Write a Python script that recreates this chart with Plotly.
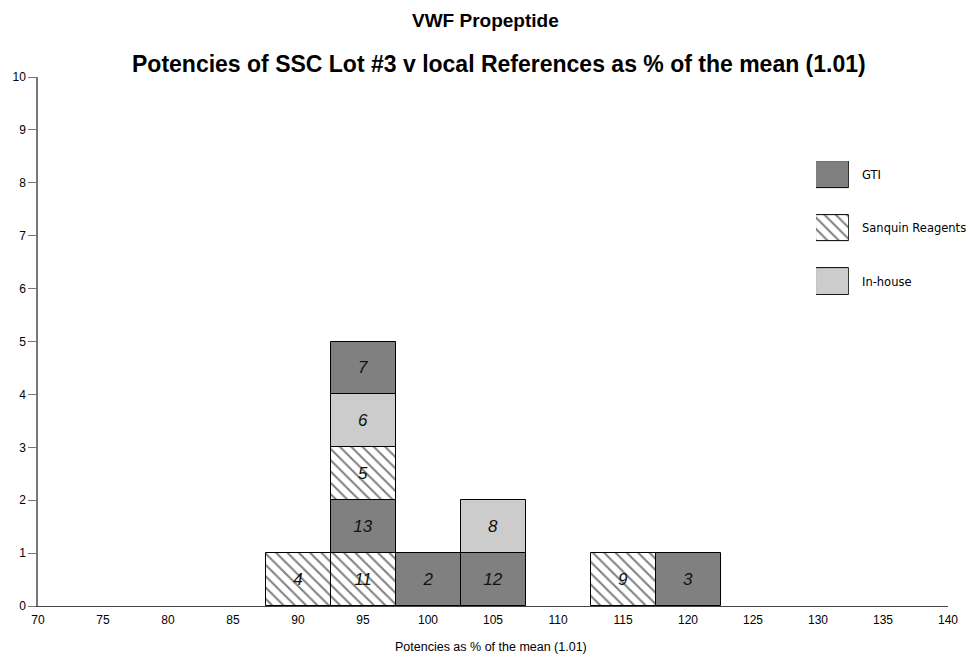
import plotly.graph_objects as go

# ---- data ----
lab_ids   = ["4", "11", "13", "5", "6", "7", "2", "12", "8", "9", "3"]
potencies = [90, 95, 95, 95, 95, 95, 100, 105, 105, 115, 120]
groups    = ["Sanquin Reagents", "Sanquin Reagents", "GTI", "Sanquin Reagents", "In-house",
             "GTI", "GTI", "GTI", "In-house", "Sanquin Reagents", "GTI"]
group_names = ["GTI", "Sanquin Reagents", "In-house"]
x_ticks = [70, 75, 80, 85, 90, 95, 100, 105, 110, 115, 120, 125, 130, 135, 140]
y_ticks = [0, 1, 2, 3, 4, 5, 6, 7, 8, 9, 10]

# stack level of each box (order of appearance within a bin)
levels = []
count = {}
for p in potencies:
    levels.append(count.get(p, 0))
    count[p] = count.get(p, 0) + 1

style = {
    "GTI": dict(color="#808080", pattern=dict(shape="")),
    "Sanquin Reagents": dict(color="white", pattern=dict(shape="\\", fgcolor="black", bgcolor="white",
                                                         size=8, solidity=0.25, fillmode="overlay")),
    "In-house": dict(color="#cccccc", pattern=dict(shape="")),
}

fig = go.Figure()
for g in group_names:
    idx = [i for i, gg in enumerate(groups) if gg == g]
    fig.add_trace(go.Bar(
        x=[potencies[i] for i in idx],
        y=[1] * len(idx),
        base=[levels[i] for i in idx],
        width=5,
        text=[lab_ids[i] for i in idx],
        textposition="inside",
        insidetextanchor="middle",
        textangle=0,
        textfont=dict(family="Liberation Sans, Arial", size=17, color="#111111", style="italic"),
        marker=dict(color=style[g]["color"], pattern=style[g]["pattern"],
                    line=dict(color="black", width=1)),
        showlegend=False,
        hoverinfo="skip",
    ))

# legend boxes drawn as bars on a hidden secondary axis
legend_base = {"GTI": 4, "Sanquin Reagents": 2, "In-house": 0}
for g in group_names:
    fig.add_trace(go.Bar(
        x=[0.5], y=[1], base=[legend_base[g]], width=1,
        xaxis="x2", yaxis="y2",
        marker=dict(color=style[g]["color"], pattern=style[g]["pattern"],
                    line=dict(color="black", width=1)),
        showlegend=False, hoverinfo="skip",
    ))

PH = 529.0  # plot height in px
def py(px):  # pixel row -> paper y
    return (606 - px) / PH
def px_(x):  # pixel column -> paper x
    return (x - 38) / 910.0

annotations = []
leg_y = {"GTI": 174.5, "Sanquin Reagents": 228.5, "In-house": 281.5}
for g in group_names:
    annotations.append(dict(x=px_(860), y=py(leg_y[g]), xref="paper", yref="paper",
                            text=g, showarrow=False, xanchor="left", yanchor="middle",
                            font=dict(family="DejaVu Sans", size=11.5, color="black")))
annotations.append(dict(text="<b>VWF Propeptide</b>", x=px_(485), y=py(20), xref="paper", yref="paper",
                        xanchor="center", yanchor="middle", showarrow=False,
                        font=dict(family="Liberation Sans, Arial", size=19)))
annotations.append(dict(text="<b>Potencies of SSC Lot #3 v local References as % of the mean (1.01)</b>",
                        x=px_(499), y=py(64), xref="paper", yref="paper", xanchor="center", yanchor="middle",
                        showarrow=False, font=dict(family="Liberation Sans, Arial", size=23)))
annotations.append(dict(text="Potencies as % of the mean (1.01)", x=px_(491), y=py(647),
                        xref="paper", yref="paper", xanchor="center", yanchor="middle",
                        showarrow=False, font=dict(family="Liberation Sans, Arial", size=12.5)))

fig.update_layout(
    width=979, height=658,
    margin=dict(l=38, r=31, t=77, b=52),
    paper_bgcolor="white", plot_bgcolor="white",
    barmode="overlay",
    bargap=0,
    font=dict(family="Liberation Sans, Arial", color="black"),
    xaxis=dict(range=[70, 140], tickvals=x_ticks, ticktext=[str(v) for v in x_ticks],
               showgrid=False, zeroline=False, showline=True, linecolor="#444444", linewidth=1,
               ticks="outside", ticklen=3, tickcolor="rgba(0,0,0,0)", tickfont=dict(size=12),
               automargin=False),
    yaxis=dict(range=[0, 10], tickvals=y_ticks, showgrid=False, zeroline=False,
               showline=True, linecolor="#777777", linewidth=1.5,
               ticks="outside", ticklen=8, tickcolor="#777777", tickfont=dict(size=12),
               automargin=False),
    xaxis2=dict(domain=[0.855, 0.891], range=[0, 1], visible=False, anchor="y2"),
    yaxis2=dict(domain=[0.588, 0.841], range=[0, 5], visible=False, anchor="x2"),
    annotations=annotations,
)

fig.write_html("out.html")
